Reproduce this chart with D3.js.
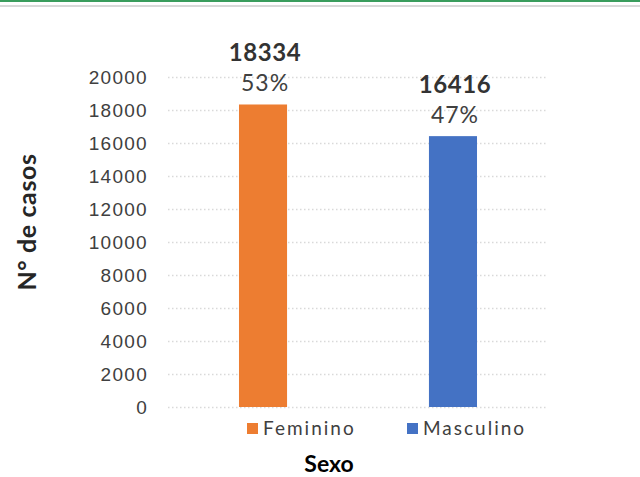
<!DOCTYPE html>
<html>
<head>
<meta charset="utf-8">
<script src="https://cdn.jsdelivr.net/npm/d3@7"></script>
<style>
    body { margin: 0; background: #fff; }
    svg { display: block; font-family: Lato, "Open Sans", sans-serif; }
    .y.axis text { font-size: 19px; fill: #404040; letter-spacing: 1.3px; }
    .y.axis line { stroke: #d9d9d9; stroke-width: 1.5; stroke-dasharray: 1.5,2.5; }
    .y.axis .domain { display: none; }
    .value { font-size: 24px; font-weight: bold; fill: #333; letter-spacing: 0.6px; }
    .pct { font-size: 23px; fill: #404040; letter-spacing: 1px; }
    .legend text { font-size: 19px; fill: #404040; letter-spacing: 2px; }
    .title { font-weight: bold; fill: #262626; }
</style>
</head>
<body>
<script>
const categories = ['Feminino', 'Masculino'];
const values = [18334, 16416];
const percents = ['53%', '47%'];
const colors = ['#ed7d31', '#4472c4'];
const yTicks = [0, 2000, 4000, 6000, 8000, 10000, 12000, 14000, 16000, 18000, 20000];

const width = 640, height = 477;
const plotLeft = 168, plotRight = 548, plotTop = 77, plotBottom = 407;

const svg = d3.select('body')
    .append('svg')
    .attr('width', width)
    .attr('height', height);

// header lines
svg.append('rect').attr('x', 0).attr('y', 0).attr('width', width).attr('height', 2).attr('fill', '#3a9d5d');
svg.append('rect').attr('x', 0).attr('y', 5).attr('width', width).attr('height', 2).attr('fill', '#d9d9d9');

const yScale = d3.scaleLinear()
    .domain([0, 20000])
    .range([plotBottom, plotTop]);

const xScale = d3.scaleBand()
    .domain(categories)
    .range([plotLeft, plotRight])
    .paddingInner(0.747)
    .paddingOuter(0.3737);

const yAxis = d3.axisLeft(yScale)
    .tickValues(yTicks)
    .tickSize(-(plotRight - plotLeft))
    .tickPadding(20)
    .tickFormat(d3.format('d'));

svg.append('g')
    .attr('class', 'y axis')
    .attr('transform', 'translate(' + plotLeft + ',0)')
    .call(yAxis)
    .selectAll('text')
    .attr('dy', '0.35em');

const data = categories.map(function(c, i) {
    return { cat: c, value: values[i], pct: percents[i], color: colors[i] };
});

svg.selectAll('rect.bar')
    .data(data)
    .enter()
    .append('rect')
    .attr('class', 'bar')
    .attr('x', function(d) { return xScale(d.cat); })
    .attr('y', function(d) { return yScale(d.value); })
    .attr('width', xScale.bandwidth())
    .attr('height', function(d) { return plotBottom - yScale(d.value); })
    .attr('fill', function(d) { return d.color; });

svg.selectAll('text.value')
    .data(data)
    .enter()
    .append('text')
    .attr('class', 'value')
    .attr('text-anchor', 'middle')
    .attr('x', function(d) { return xScale(d.cat) + xScale.bandwidth() / 2 + 2; })
    .attr('y', function(d) { return yScale(d.value) - 43; })
    .text(function(d) { return d.value; });

svg.selectAll('text.pct')
    .data(data)
    .enter()
    .append('text')
    .attr('class', 'pct')
    .attr('text-anchor', 'middle')
    .attr('x', function(d) { return xScale(d.cat) + xScale.bandwidth() / 2 + 2; })
    .attr('y', function(d) { return yScale(d.value) - 13; })
    .text(function(d) { return d.pct; });

// legend
const legendX = [247, 407];
const legend = svg.append('g').attr('class', 'legend');
legend.selectAll('rect')
    .data(data)
    .enter()
    .append('rect')
    .attr('x', function(d, i) { return legendX[i]; })
    .attr('y', 423)
    .attr('width', 11)
    .attr('height', 11)
    .attr('fill', function(d) { return d.color; });
legend.selectAll('text')
    .data(data)
    .enter()
    .append('text')
    .attr('x', function(d, i) { return legendX[i] + 16; })
    .attr('y', 435)
    .text(function(d) { return d.cat; });

svg.append('text')
    .attr('class', 'title')
    .attr('text-anchor', 'middle')
    .attr('x', 329)
    .attr('y', 472)
    .style('fill', '#000')
    .style('font-size', '23px')
    .text('Sexo');

svg.append('text')
    .attr('class', 'title')
    .attr('text-anchor', 'middle')
    .attr('transform', 'translate(36,222) rotate(-90)')
    .style('font-size', '25px')
    .style('letter-spacing', '0.6px')
    .text('N° de casos');
</script>
</body>
</html>
